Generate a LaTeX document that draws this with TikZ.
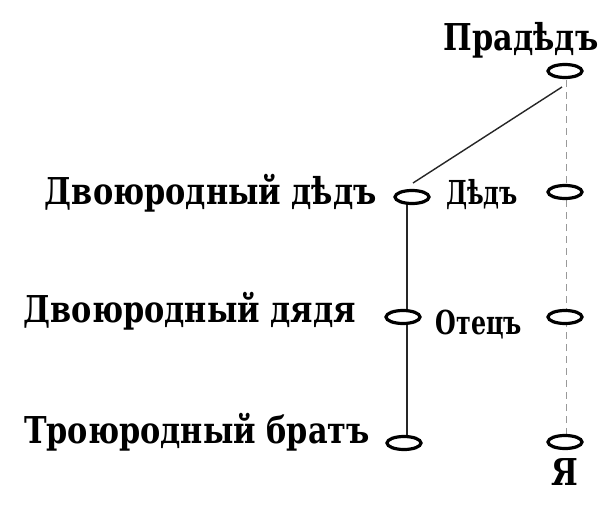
\documentclass[tikz,border=0pt]{standalone}
\usepackage{fontspec}
\setmainfont{DejaVu Serif}[FakeStretch=0.82]
\newfontfamily\narrowserif{DejaVu Serif}[FakeStretch=0.72]
\usetikzlibrary{shapes.geometric}
\tikzset{
  oval/.style={draw=black, fill=white, ellipse, line width=3.2pt, minimum width=34pt, minimum height=13pt, inner sep=0pt},
  lbl/.style={font=\bfseries\fontsize{37}{37}\selectfont, inner sep=0pt, text=black},
  smalllbl/.style={lbl, font=\narrowserif\bfseries\fontsize{33}{33}\selectfont},
  solidline/.style={draw=black!85, line width=1.4pt},
  dotline/.style={draw=black!40, line width=0.9pt, dash pattern=on 7pt off 5pt},
}
\begin{document}
\begin{tikzpicture}[x=1pt,y=-1pt]
\useasboundingbox (0,0) rectangle (608,506);
\fill[white] (0,0) rectangle (608,506);
% coordinates for connector ends
\coordinate (ps) at (562,87);
\coordinate (de) at (413,183);
\coordinate (ltop) at (407,197);
\coordinate (lbot) at (407,443);
\coordinate (rtop) at (566,80);
\coordinate (rbot) at (566,442);
% connectors (drawn first, ovals on top)
\draw[solidline] (ps) -- (de);
\draw[solidline] (ltop) -- (lbot);
\draw[dotline] (rtop) -- (rbot);
% ovals
\node[oval] (p) at (565,71) {};
\node[oval] (d1) at (412,197) {};
\node[oval] (d2) at (403,317) {};
\node[oval] (d3) at (404,443) {};
\node[oval] (r1) at (565,192) {};
\node[oval] (r2) at (565,317) {};
\node[oval] (r3) at (565,442) {};
% labels
\node[lbl, anchor=base] (tp) at (521,50) {Прадѣдъ};
\node[lbl, anchor=base east] (t1) at (377,204) {Двоюродный дѣдъ};
\node[lbl, anchor=base east] (t2) at (356,322) {Двоюродный дядя};
\node[lbl, anchor=base east] (t3) at (370,443) {Троюродный братъ};
\node[smalllbl, anchor=base] (tr1) at (482,204) {Дѣдъ};
\node[smalllbl, anchor=base] (tr2) at (479,334) {Отецъ};
\node[lbl, anchor=base] (tr3) at (565,485) {Я};
\end{tikzpicture}
\end{document}
